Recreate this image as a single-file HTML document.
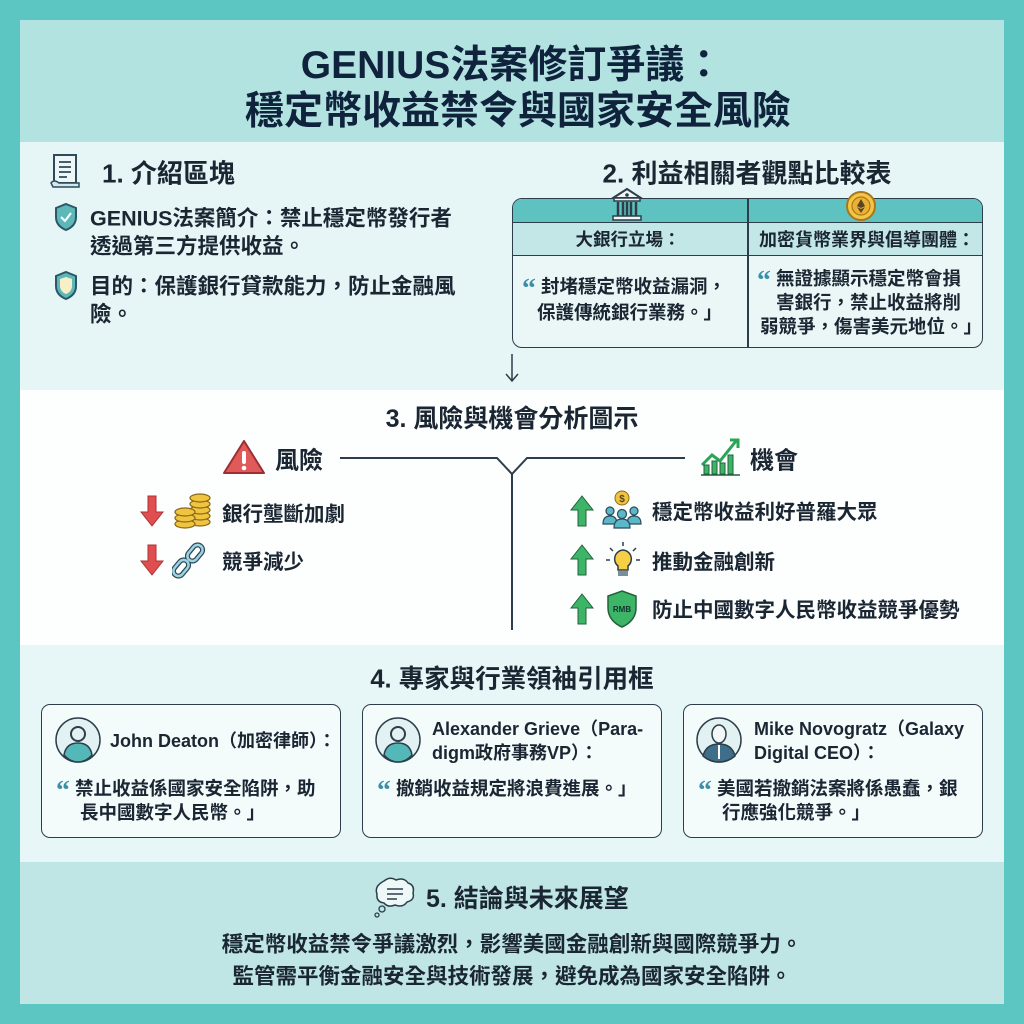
<!DOCTYPE html>
<html><head><meta charset="utf-8"><style>
*{margin:0;padding:0;box-sizing:border-box}
body{width:1024px;height:1024px;background:#5cc6c3;position:relative;overflow:hidden;font-family:"Liberation Sans","Noto Sans CJK TC",sans-serif;color:#1b2633}
.a{position:absolute}
.t{position:absolute;white-space:nowrap;font-weight:700}
.c{transform:translate(-50%,-50%)}
.l{transform:translateY(-50%)}
.q{color:#3a8fa8;font-family:"Liberation Serif",serif;font-weight:700;font-size:1.5em;line-height:0;vertical-align:-0.15em}
.card{position:absolute;top:704px;width:300px;height:134px;border:1.5px solid #2d3e4a;border-radius:9px;background:#f3fbfb}
</style></head><body>
<div class="a" style="left:20px;top:20px;width:984px;height:122px;background:#b3e3e1"></div>
<div class="a" style="left:20px;top:142px;width:984px;height:248px;background:#e6f5f5"></div>
<div class="a" style="left:20px;top:390px;width:984px;height:255px;background:#fdfefe"></div>
<div class="a" style="left:20px;top:645px;width:984px;height:217px;background:#e7f6f6"></div>
<div class="a" style="left:20px;top:862px;width:984px;height:142px;background:#bfe6e4"></div>

<div class="t c" style="left:512px;top:62px;font-size:39px;color:#10233d">GENIUS法案修訂爭議：</div>
<div class="t c" style="left:518px;top:108px;font-size:39px;color:#10233d">穩定幣收益禁令與國家安全風險</div>

<!-- section 1 -->
<svg class="a" style="left:48px;top:153px" width="36" height="36" viewBox="0 0 36 36"><rect x="6" y="2" width="22" height="28" fill="#eef7f8" stroke="#2f4a5a" stroke-width="2"/><path d="M11 9h12M11 14h12M11 19h12M11 24h8" stroke="#2f4a5a" stroke-width="1.8"/><path d="M3 30q3-4 8 0h20v4H5z" fill="#cfe9ee" stroke="#2f4a5a" stroke-width="1.5"/></svg>
<div class="t l" style="left:102px;top:172px;font-size:26px">1. 介紹區塊</div>
<svg class="a" style="left:53px;top:202px" width="26" height="30" viewBox="0 0 26 30"><path d="M13 2L23 6V15C23 22 18 26 13 28C8 26 3 22 3 15V6Z" fill="#5fb8b8" stroke="#2a5866" stroke-width="2"/><path d="M8 15l4 4 6-8" stroke="#fff" stroke-width="2" fill="none"/></svg>
<div class="t l" style="left:90px;top:217px;font-size:21.5px">GENIUS法案簡介：禁止穩定幣發行者</div>
<div class="t l" style="left:90px;top:245px;font-size:21.5px">透過第三方提供收益。</div>
<svg class="a" style="left:53px;top:270px" width="26" height="32" viewBox="0 0 26 32"><path d="M13 2L23 6V16C23 23 18 27 13 29C8 27 3 23 3 16V6Z" fill="#5fb8b8" stroke="#2a5866" stroke-width="2"/><path d="M13 7L19 9V16C19 20 16 23 13 24C10 23 7 20 7 16V9Z" fill="#f7efc8"/></svg>
<div class="t l" style="left:90px;top:285px;font-size:21.5px">目的：保護銀行貸款能力，防止金融風</div>
<div class="t l" style="left:90px;top:313px;font-size:21.5px">險。</div>

<!-- section 2 -->
<div class="t c" style="left:747px;top:172px;font-size:26px">2. 利益相關者觀點比較表</div>
<div class="a" style="left:512px;top:198px;width:471px;height:150px;border:1.5px solid #2d3e4a;border-radius:10px;overflow:hidden;background:#ebf7f7">
 <div class="a" style="left:0;top:0;width:100%;height:24px;background:#5ec3c0;border-bottom:1.5px solid #2d3e4a"></div>
 <div class="a" style="left:0;top:24px;width:100%;height:33px;background:#c3e7e6;border-bottom:1.5px solid #2d3e4a"></div>
 <div class="a" style="left:234px;top:0;width:1.5px;height:100%;background:#2d3e4a"></div>
</div>
<svg class="a" style="left:610px;top:187px" width="34" height="36" viewBox="0 0 34 36"><path d="M3 11L17 2L31 11Z" fill="#eef6f6" stroke="#2d3e4a" stroke-width="2"/><circle cx="17" cy="8" r="1.8" fill="#2d3e4a"/><rect x="4" y="11" width="26" height="3" fill="#eef6f6" stroke="#2d3e4a" stroke-width="1.5"/><path d="M8 15v14M13 15v14M17 15v14M21 15v14M26 15v14" stroke="#2d3e4a" stroke-width="2.5"/><rect x="3" y="29" width="28" height="4" fill="#eef6f6" stroke="#2d3e4a" stroke-width="1.5"/></svg>
<svg class="a" style="left:845px;top:190px" width="32" height="32" viewBox="0 0 32 32"><circle cx="16" cy="16" r="14" fill="#f4c542" stroke="#a8771c" stroke-width="2"/><circle cx="16" cy="16" r="9" fill="#e9b236" stroke="#a8771c" stroke-width="1.2"/><path d="M16 9l-4 7 4 2 4-2zM12 17l4 6 4-6-4 2z" fill="#5a4520"/></svg>
<div class="t c" style="left:628px;top:239px;font-size:17.5px">大銀行立場：</div>
<div class="t c" style="left:867px;top:239px;font-size:18px">加密貨幣業界與倡導團體：</div>
<div class="t l" style="left:522px;top:286px;font-size:18.5px"><span class="q">“</span> 封堵穩定幣收益漏洞，</div>
<div class="t l" style="left:537px;top:312px;font-size:18.5px">保護傳統銀行業務。」</div>
<div class="t l" style="left:757px;top:278px;font-size:18.5px"><span class="q">“</span> 無證據顯示穩定幣會損</div>
<div class="t l" style="left:776px;top:302px;font-size:18.5px">害銀行，禁止收益將削</div>
<div class="t l" style="left:760px;top:326px;font-size:18.5px">弱競爭，傷害美元地位。」</div>
<svg class="a" style="left:504px;top:352px" width="16" height="32"><path d="M8 2V29M2 22L8 29L14 22" stroke="#2d3e4a" stroke-width="1.5" fill="none"/></svg>

<!-- section 3 -->
<div class="t c" style="left:512px;top:417px;font-size:25px">3. 風險與機會分析圖示</div>
<svg class="a" style="left:0;top:430px" width="1024" height="210"><path d="M340 28H497L512 44L527 28H685M512 44V200" stroke="#2d3e4a" stroke-width="2" fill="none"/></svg>
<svg class="a" style="left:222px;top:438px" width="44" height="38"><path d="M22 3L42 35H2Z" fill="#e05a5a" stroke="#9c2f30" stroke-width="2" stroke-linejoin="round"/><rect x="20" y="13" width="4" height="13" rx="2" fill="#fff"/><circle cx="22" cy="30" r="2.3" fill="#fff"/></svg>
<div class="t l" style="left:275px;top:458px;font-size:24px">風險</div>
<svg class="a" style="left:698px;top:435px" width="46" height="42"><path d="M4 30L14 20L22 26L38 6" stroke="#2aa457" stroke-width="3" fill="none"/><path d="M32 5H40V13" stroke="#2aa457" stroke-width="3" fill="none"/><rect x="6" y="30" width="5" height="9" fill="#3cb567" stroke="#23603c"/><rect x="14" y="26" width="5" height="13" fill="#3cb567" stroke="#23603c"/><rect x="22" y="28" width="5" height="11" fill="#3cb567" stroke="#23603c"/><rect x="30" y="20" width="5" height="19" fill="#3cb567" stroke="#23603c"/><path d="M3 40H42" stroke="#23603c" stroke-width="1.5"/></svg>
<div class="t l" style="left:750px;top:458px;font-size:24px">機會</div>

<svg class="a" style="left:139px;top:494px" width="26" height="34"><path d="M9 2H17V18H24L13 32L2 18H9Z" fill="#e04e50" stroke="#a33" stroke-width="1"/></svg>
<svg class="a" style="left:172px;top:492px" width="42" height="38"><g fill="#f1c440" stroke="#8a6a1a" stroke-width="1.3"><ellipse cx="28" cy="30" rx="10" ry="4"/><ellipse cx="28" cy="24" rx="10" ry="4"/><ellipse cx="28" cy="18" rx="10" ry="4"/><ellipse cx="28" cy="12" rx="10" ry="4"/><ellipse cx="28" cy="6" rx="10" ry="4"/><ellipse cx="13" cy="32" rx="10" ry="4"/><ellipse cx="13" cy="26" rx="10" ry="4"/><ellipse cx="13" cy="20" rx="10" ry="4"/></g></svg>
<div class="t l" style="left:222px;top:512px;font-size:20.5px">銀行壟斷加劇</div>
<svg class="a" style="left:139px;top:543px" width="26" height="34"><path d="M9 2H17V18H24L13 32L2 18H9Z" fill="#e04e50" stroke="#a33" stroke-width="1"/></svg>
<svg class="a" style="left:172px;top:541px" width="36" height="38"><g fill="none" stroke="#2d4a5a" stroke-width="5"><rect x="4" y="18" width="10" height="18" rx="5" transform="rotate(40 9 27)"/><rect x="18" y="3" width="10" height="18" rx="5" transform="rotate(40 23 12)"/></g><g fill="none" stroke="#9fd3e0" stroke-width="2.5"><rect x="4" y="18" width="10" height="18" rx="5" transform="rotate(40 9 27)"/><rect x="18" y="3" width="10" height="18" rx="5" transform="rotate(40 23 12)"/></g></svg>
<div class="t l" style="left:222px;top:560px;font-size:20.5px">競爭減少</div>

<svg class="a" style="left:569px;top:494px" width="26" height="34"><path d="M9 32H17V16H24L13 2L2 16H9Z" fill="#3cb567" stroke="#23603c" stroke-width="1"/></svg>
<svg class="a" style="left:601px;top:490px" width="42" height="40"><circle cx="21" cy="8" r="7" fill="#f1c440" stroke="#8a6a1a"/><text x="21" y="12" font-size="10" text-anchor="middle" fill="#5a4520" font-family="Liberation Sans" font-weight="700">$</text><g fill="#5ab8c8" stroke="#2d4a5a" stroke-width="1.2"><circle cx="9" cy="21" r="4"/><path d="M2 34q0-8 7-8t7 8z"/><circle cx="33" cy="21" r="4"/><path d="M26 34q0-8 7-8t7 8z"/><circle cx="21" cy="24" r="4.5"/><path d="M13 38q0-9 8-9t8 9z"/></g></svg>
<div class="t l" style="left:652px;top:510px;font-size:20.5px">穩定幣收益利好普羅大眾</div>
<svg class="a" style="left:569px;top:543px" width="26" height="34"><path d="M9 32H17V16H24L13 2L2 16H9Z" fill="#3cb567" stroke="#23603c" stroke-width="1"/></svg>
<svg class="a" style="left:604px;top:540px" width="38" height="40"><path d="M19 2v4M6 8l3 3M32 8l-3 3M2 20h4M32 20h4" stroke="#2d3e4a" stroke-width="1.5"/><path d="M19 10a9 9 0 0 0-5 16v4h10v-4a9 9 0 0 0-5-16z" fill="#f7cf45" stroke="#2d3e4a" stroke-width="1.5"/><rect x="14" y="31" width="10" height="5" fill="#7d8e9b"/></svg>
<div class="t l" style="left:652px;top:560px;font-size:20.5px">推動金融創新</div>
<svg class="a" style="left:569px;top:592px" width="26" height="34"><path d="M9 32H17V16H24L13 2L2 16H9Z" fill="#3cb567" stroke="#23603c" stroke-width="1"/></svg>
<svg class="a" style="left:605px;top:589px" width="34" height="40"><path d="M17 2L31 7V19C31 29 24 35 17 38C10 35 3 29 3 19V7Z" fill="#3cb567" stroke="#23603c" stroke-width="1.5"/><text x="17" y="23" font-size="8" text-anchor="middle" fill="#133" font-family="Liberation Sans" font-weight="700">RMB</text></svg>
<div class="t l" style="left:652px;top:608px;font-size:20.5px">防止中國數字人民幣收益競爭優勢</div>

<!-- section 4 -->
<div class="t c" style="left:512px;top:677px;font-size:25.5px">4. 專家與行業領袖引用框</div>
<div class="card" style="left:41px"></div>
<div class="card" style="left:362px"></div>
<div class="card" style="left:683px"></div>
<svg class="a" style="left:54px;top:716px" width="48" height="48"><circle cx="24" cy="24" r="22" fill="#e2f2f3" stroke="#2d3e4a" stroke-width="1.5"/><circle cx="24" cy="18" r="7" fill="none" stroke="#2d3e4a" stroke-width="2"/><path d="M10 39q2-12 14-12t14 12q-6 7-14 7t-14-7z" fill="#55b8b8" stroke="#2d3e4a" stroke-width="1.5"/></svg>
<div class="t l" style="left:110px;top:740px;font-size:18px">John Deaton（加密律師）：</div>
<div class="t l" style="left:56px;top:788px;font-size:18.5px"><span class="q">“</span> 禁止收益係國家安全陷阱，助</div>
<div class="t l" style="left:80px;top:812px;font-size:18.5px">長中國數字人民幣。」</div>

<svg class="a" style="left:374px;top:716px" width="48" height="48"><circle cx="24" cy="24" r="22" fill="#e2f2f3" stroke="#2d3e4a" stroke-width="1.5"/><circle cx="24" cy="18" r="7" fill="none" stroke="#2d3e4a" stroke-width="2"/><path d="M10 39q2-12 14-12t14 12q-6 7-14 7t-14-7z" fill="#55b8b8" stroke="#2d3e4a" stroke-width="1.5"/></svg>
<div class="t l" style="left:432px;top:728px;font-size:18px">Alexander Grieve（Para-</div>
<div class="t l" style="left:432px;top:752px;font-size:18px">digm政府事務VP）：</div>
<div class="t l" style="left:377px;top:788px;font-size:18.5px"><span class="q">“</span> 撤銷收益規定將浪費進展。」</div>

<svg class="a" style="left:695px;top:716px" width="48" height="48"><circle cx="24" cy="24" r="22" fill="#e2f2f3" stroke="#2d3e4a" stroke-width="1.5"/><ellipse cx="24" cy="18" rx="7" ry="9" fill="#f3f7f8" stroke="#2d3e4a" stroke-width="1.5"/><path d="M8 40q3-12 16-12t16 12q-7 6-16 6t-16-6z" fill="#3e6e8a" stroke="#2d3e4a" stroke-width="1.5"/><path d="M24 29v14" stroke="#fff" stroke-width="2"/></svg>
<div class="t l" style="left:754px;top:728px;font-size:18px">Mike Novogratz（Galaxy</div>
<div class="t l" style="left:754px;top:752px;font-size:18px">Digital CEO）：</div>
<div class="t l" style="left:698px;top:788px;font-size:18.5px"><span class="q">“</span> 美國若撤銷法案將係愚蠢，銀</div>
<div class="t l" style="left:722px;top:812px;font-size:18.5px">行應強化競爭。」</div>

<!-- section 5 -->
<svg class="a" style="left:372px;top:875px" width="46" height="44"><path d="M12 6q6-5 12-1q8-3 12 3q7 2 5 10q2 7-6 9q-4 6-12 3q-7 3-11-2q-8-1-7-9q-3-8 7-13z" fill="#eef8f8" stroke="#2d3e4a" stroke-width="1.5"/><path d="M15 14h16M15 19h16M15 24h10" stroke="#2d3e4a" stroke-width="1.5"/><circle cx="10" cy="34" r="3" fill="none" stroke="#2d3e4a" stroke-width="1.3"/><circle cx="5" cy="40" r="2" fill="none" stroke="#2d3e4a" stroke-width="1.3"/></svg>
<div class="t l" style="left:426px;top:897px;font-size:25px">5. 結論與未來展望</div>
<div class="t c" style="left:512px;top:943px;font-size:21.5px">穩定幣收益禁令爭議激烈，影響美國金融創新與國際競爭力。</div>
<div class="t c" style="left:512px;top:975px;font-size:21.5px">監管需平衡金融安全與技術發展，避免成為國家安全陷阱。</div>
</body></html>
